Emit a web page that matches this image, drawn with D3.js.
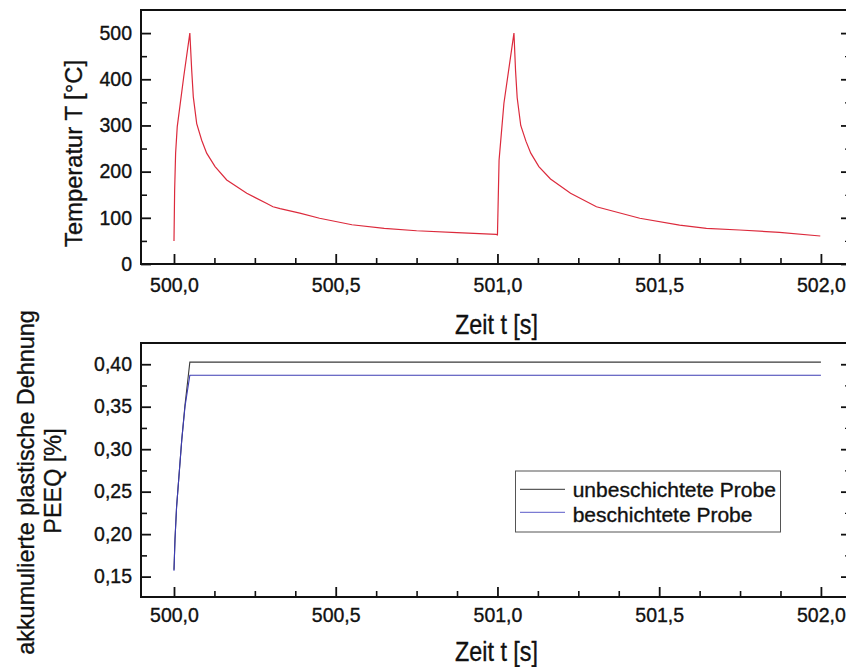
<!DOCTYPE html>
<html>
<head>
<meta charset="utf-8">
<script src="https://cdn.jsdelivr.net/npm/d3@7"></script>
<style>
  html, body { margin: 0; padding: 0; background: #ffffff; }
  svg { display: block; font-family: "Liberation Sans", Arial, sans-serif; }
  svg text { stroke: #111; stroke-width: 0.35px; paint-order: stroke; }
</style>
</head>
<body>
<svg id="chart" width="846" height="667"></svg>
<script>
// Time axis (shared by both panels)
const timeDomain = [499.898, 502.093];
const timeTicks = [500.0, 500.5, 501.0, 501.5, 502.0];
const timeMinorTicks = [500.125, 500.25, 500.375, 500.625, 500.75, 500.875,
                        501.125, 501.25, 501.375, 501.625, 501.75, 501.875];

// Upper panel: temperature during two heating cycles
const tempDomain = [0, 550];
const tempTicks = [0, 100, 200, 300, 400, 500];
const tempMinorTicks = [50, 150, 250, 350, 450];
const tempTime = [
  500.000, 500.002, 500.005, 500.010, 500.030, 500.049, 500.0547, 500.0597,
  500.0702, 500.0856, 500.101, 500.127, 500.163, 500.225, 500.287, 500.306,
  500.328, 500.389, 500.450, 500.550, 500.650, 500.750, 500.875, 500.996,
  501.000, 501.005, 501.020, 501.051, 501.056, 501.061, 501.072, 501.088,
  501.103, 501.128, 501.164, 501.226, 501.306, 501.440, 501.563, 501.646,
  501.748, 501.872, 501.998
];
const tempValue = [
  50, 160, 240, 297, 405, 500, 420, 362,
  304, 268, 240, 211, 182, 153, 131, 124,
  120, 110, 99, 85, 77, 72, 68, 64,
  63, 225, 348, 500, 418, 360, 300, 266,
  240, 211, 184, 153, 124, 99, 84, 77,
  73.6, 68.6, 60.6
];

// Lower panel: accumulated equivalent plastic strain
const peeqDomain = [0.126, 0.425];
const peeqTicks = [0.15, 0.20, 0.25, 0.30, 0.35, 0.40];
const peeqMinorTicks = [0.175, 0.225, 0.275, 0.325, 0.375];
const peeqTime = [500.000, 500.003, 500.008, 500.024, 500.034, 500.049, 502.000];
const peeqUncoated = [0.158, 0.193, 0.232, 0.311, 0.352, 0.4025, 0.4025];
const peeqCoated   = [0.157, 0.193, 0.232, 0.311, 0.350, 0.387, 0.387];
const seriesNames = ["unbeschichtete Probe", "beschichtete Probe"];
const seriesColors = ["#3a3a3a", "#3c3cb4"];

const locale = d3.formatLocale({ decimal: ",", thousands: ".", grouping: [3], currency: ["", " €"] });
const fmtTime = locale.format(".1f");
const fmtPeeq = locale.format(".2f");

const svg = d3.select("#chart");
const left = 141, right = 851;
const x = d3.scaleLinear().domain(timeDomain).range([left, right]);

function panel(cfg) {
  const y = d3.scaleLinear().domain(cfg.yDomain).range([cfg.bottom, cfg.top]);
  const g = svg.append("g");
  const id = "clip-" + cfg.name;
  svg.append("clipPath").attr("id", id)
    .append("rect").attr("x", left).attr("y", cfg.top)
    .attr("width", right - left).attr("height", cfg.bottom - cfg.top);

  const styleAxis = (sel, w) => {
    sel.select(".domain").remove();
    sel.selectAll(".tick line").attr("stroke", "#111").attr("stroke-width", w);
    sel.selectAll(".tick text").attr("fill", "#111")
      .style("font-size", "19.5px")
      .style("font-family", "'Liberation Sans', Arial, sans-serif");
  };

  // bottom axis: major + minor ticks pointing inward
  g.append("g").attr("transform", `translate(0,${cfg.bottom})`)
    .call(d3.axisBottom(x).tickValues(timeTicks).tickFormat(fmtTime)
      .tickSizeInner(-10).tickSizeOuter(0).tickPadding(cfg.xPad))
    .call(s => styleAxis(s, 1.8));
  g.append("g").attr("transform", `translate(0,${cfg.bottom})`)
    .call(d3.axisBottom(x).tickValues(timeMinorTicks).tickFormat("")
      .tickSizeInner(-6).tickSizeOuter(0))
    .call(s => styleAxis(s, 1.6));

  // left axis
  g.append("g").attr("transform", `translate(${left},0)`)
    .call(d3.axisLeft(y).tickValues(cfg.yTicks).tickFormat(cfg.yFormat)
      .tickSizeInner(-10).tickSizeOuter(0).tickPadding(9))
    .call(s => styleAxis(s, 1.8));
  g.append("g").attr("transform", `translate(${left},0)`)
    .call(d3.axisLeft(y).tickValues(cfg.yMinor).tickFormat("")
      .tickSizeInner(-6).tickSizeOuter(0))
    .call(s => styleAxis(s, 1.6));

  // right axis, ticks only
  g.append("g").attr("transform", `translate(${right},0)`)
    .call(d3.axisRight(y).tickValues(cfg.yTicks).tickFormat("")
      .tickSizeInner(-10).tickSizeOuter(0))
    .call(s => styleAxis(s, 1.8));
  g.append("g").attr("transform", `translate(${right},0)`)
    .call(d3.axisRight(y).tickValues(cfg.yMinor).tickFormat("")
      .tickSizeInner(-6).tickSizeOuter(0))
    .call(s => styleAxis(s, 1.2));

  // frame
  g.append("rect").attr("x", left).attr("y", cfg.top)
    .attr("width", right - left).attr("height", cfg.bottom - cfg.top)
    .attr("fill", "none").attr("stroke", "#111").attr("stroke-width", 2);

  // x title (condensed face)
  g.append("text").attr("x", 455).attr("y", cfg.xTitleY)
    .attr("textLength", 83).attr("lengthAdjust", "spacingAndGlyphs")
    .style("font-size", cfg.xTitleSize).attr("fill", "#111").text("Zeit t [s]");

  return { g, y, clip: `url(#${id})` };
}

// ---- upper panel ----
const upper = panel({
  name: "temp", top: 10, bottom: 264, yDomain: tempDomain,
  yTicks: tempTicks, yMinor: tempMinorTicks, yFormat: d3.format("d"),
  xPad: 14.5, xTitleY: 334, xTitleSize: "28px"
});
const tempLine = d3.line().x((d, i) => x(tempTime[i])).y(d => upper.y(d));
upper.g.append("path").datum(tempValue)
  .attr("clip-path", upper.clip)
  .attr("d", tempLine).attr("fill", "none")
  .attr("stroke", "#dc2a3c").attr("stroke-width", 1.2);

upper.g.append("text")
  .attr("transform", "translate(82,153.5) rotate(-90)")
  .attr("text-anchor", "middle").attr("textLength", 187).attr("lengthAdjust", "spacingAndGlyphs")
  .style("font-size", "23px").attr("fill", "#111").text("Temperatur T [°C]");

// ---- lower panel ----
const lower = panel({
  name: "peeq", top: 343, bottom: 597, yDomain: peeqDomain,
  yTicks: peeqTicks, yMinor: peeqMinorTicks, yFormat: fmtPeeq,
  xPad: 11.5, xTitleY: 661, xTitleSize: "27px"
});
[peeqUncoated, peeqCoated].forEach((vals, k) => {
  const line = d3.line().x((d, i) => x(peeqTime[i])).y(d => lower.y(d));
  lower.g.append("path").datum(vals)
    .attr("clip-path", lower.clip)
    .attr("d", line).attr("fill", "none")
    .attr("stroke", seriesColors[k]).attr("stroke-width", 1.1);
});

lower.g.append("text")
  .attr("transform", "translate(33.5,482.5) rotate(-90)")
  .attr("text-anchor", "middle")
  .style("font-size", "23.4px").attr("fill", "#111").text("akkumulierte plastische Dehnung");
lower.g.append("text")
  .attr("transform", "translate(61,481) rotate(-90)")
  .attr("text-anchor", "middle")
  .style("font-size", "23.4px").attr("fill", "#111").text("PEEQ [%]");

// legend
const leg = lower.g.append("g");
leg.append("rect").attr("x", 515.5).attr("y", 471).attr("width", 265).attr("height", 61)
  .attr("fill", "#fff").attr("stroke", "#555").attr("stroke-width", 1);
seriesNames.forEach((name, k) => {
  const ly = 489.3 + k * 23;
  leg.append("line").attr("x1", 520).attr("x2", 565).attr("y1", ly).attr("y2", ly)
    .attr("stroke", k === 0 ? "#333" : "#5a5ac8").attr("stroke-width", 1);
  leg.append("text").attr("x", 572.7).attr("y", 496.7 + k * 25)
    .style("font-size", "21px").attr("fill", "#111").text(name);
});
</script>
</body>
</html>
